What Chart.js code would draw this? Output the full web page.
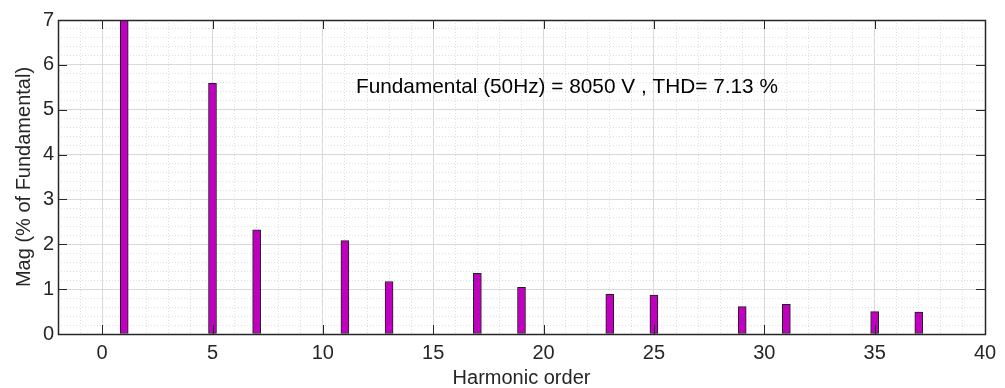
<!DOCTYPE html>
<html>
<head>
<meta charset="utf-8">
<script src="https://cdn.jsdelivr.net/npm/chart.js@4/dist/chart.umd.min.js"></script>
<style>
  body { margin: 0; background: #fff; }
  #wrap { width: 1005px; height: 388px; }
</style>
</head>
<body>
<div id="wrap"><canvas id="myChart"></canvas></div>
<script>
// harmonic spectrum, % of fundamental (fundamental itself is clipped at 7)
const orders = [1, 5, 7, 11, 13, 17, 19, 23, 25, 29, 31, 35, 37];
const mags = [100, 5.59, 2.32, 2.08, 1.17, 1.35, 1.04, 0.885, 0.87, 0.61, 0.66, 0.50, 0.49];

const xTicks = [0, 5, 10, 15, 20, 25, 30, 35, 40];
const yTicks = [0, 1, 2, 3, 4, 5, 6, 7];
const xMinorTicks = [];
for (let v = -2; v <= 40; v++) xMinorTicks.push(v);
const yMinorTicks = [];
for (let i = 0; i <= 35; i++) yMinorTicks.push(i / 5);

const note = 'Fundamental (50Hz) = 8050 V , THD= 7.13 %';
const noteAt = { x: 11.5, y: 5.5 };

const axisColor = '#262626';
const font = { family: '"Liberation Sans", Arial, sans-serif', size: 20 };

const setTicks = list => scale => { scale.ticks = list.map(v => ({ value: v })); };

// box round the axes with inward ticks, plus the text annotation
const axesBox = {
  id: 'axesBox',
  afterDatasetsDraw(chart) {
    const { ctx, chartArea: a, scales } = chart;
    const len = 9;
    ctx.save();
    ctx.strokeStyle = axisColor;
    ctx.lineWidth = 1;
    ctx.beginPath();
    xTicks.forEach(v => {
      const px = Math.round(scales.x.getPixelForValue(v)) + 0.5;
      ctx.moveTo(px, a.bottom); ctx.lineTo(px, a.bottom - len);
      ctx.moveTo(px, a.top); ctx.lineTo(px, a.top + len);
    });
    yTicks.forEach(v => {
      const py = Math.round(scales.y.getPixelForValue(v)) + 0.5;
      ctx.moveTo(a.left, py); ctx.lineTo(a.left + len, py);
      ctx.moveTo(a.right, py); ctx.lineTo(a.right - len, py);
    });
    ctx.stroke();
    ctx.lineWidth = 1.5;
    ctx.strokeRect(Math.round(a.left) + 0.5, Math.round(a.top) + 0.5,
      Math.round(a.right - a.left), Math.round(a.bottom - a.top));

    ctx.fillStyle = '#000';
    ctx.font = '20.8px "Liberation Sans", Arial, sans-serif';
    ctx.textAlign = 'left';
    ctx.textBaseline = 'middle';
    ctx.fillText(note, scales.x.getPixelForValue(noteAt.x), scales.y.getPixelForValue(noteAt.y));
    ctx.restore();
  }
};

const data = {
  datasets: [{
    label: 'Mag',
    data: orders.map((o, i) => ({ x: o, y: mags[i] })),
    xAxisID: 'x',
    yAxisID: 'y',
    backgroundColor: '#bf00bf',
    borderColor: '#1e1e1e',
    borderWidth: 1,
    borderSkipped: false,
    barThickness: 8,
    clip: 0
  }]
};

const minorGrid = { color: 'rgba(0,0,0,0.13)', drawTicks: false, offset: false };
const minorBorder = { display: false, dash: [1, 2] };

const config = {
  type: 'bar',
  data: data,
  plugins: [axesBox],
  options: {
    responsive: true,
    maintainAspectRatio: false,
    animation: false,
    layout: { padding: { top: 20, right: 20, left: 0, bottom: 0 } },
    plugins: { legend: { display: false }, tooltip: { enabled: false } },
    scales: {
      // minor grid first so the solid major grid sits on top of it
      xMinor: {
        type: 'linear', position: 'bottom', min: -2, max: 40,
        offset: false,
        afterBuildTicks: setTicks(xMinorTicks),
        ticks: { display: false },
        border: minorBorder,
        grid: minorGrid,
        afterFit(s) { s.height = 0; }
      },
      yMinor: {
        type: 'linear', position: 'left', min: 0, max: 7,
        afterBuildTicks: setTicks(yMinorTicks),
        ticks: { display: false },
        border: minorBorder,
        grid: minorGrid,
        afterFit(s) { s.width = 0; }
      },
      x: {
        type: 'linear', position: 'bottom', min: -2, max: 40,
        offset: false,
        afterBuildTicks: setTicks(xTicks),
        ticks: { color: axisColor, font: font, padding: 7, maxRotation: 0, autoSkip: false },
        border: { display: false },
        grid: { color: '#d9d9d9', drawTicks: false, offset: false },
        title: { display: true, text: 'Harmonic order', color: axisColor, font: font, padding: { top: 0, bottom: -2 } },
        afterFit(s) { s.height = 54; }
      },
      y: {
        type: 'linear', position: 'left', min: 0, max: 7,
        afterBuildTicks: setTicks(yTicks),
        ticks: { color: axisColor, font: font, padding: 4 },
        border: { display: false },
        grid: { color: '#d9d9d9', drawTicks: false },
        title: { display: true, text: 'Mag (% of Fundamental)', color: axisColor, font: font, padding: { top: 12, bottom: 0 } },
        afterFit(s) { s.width = 58; }
      }
    }
  }
};

new Chart(document.getElementById('myChart'), config);
</script>
</body>
</html>
